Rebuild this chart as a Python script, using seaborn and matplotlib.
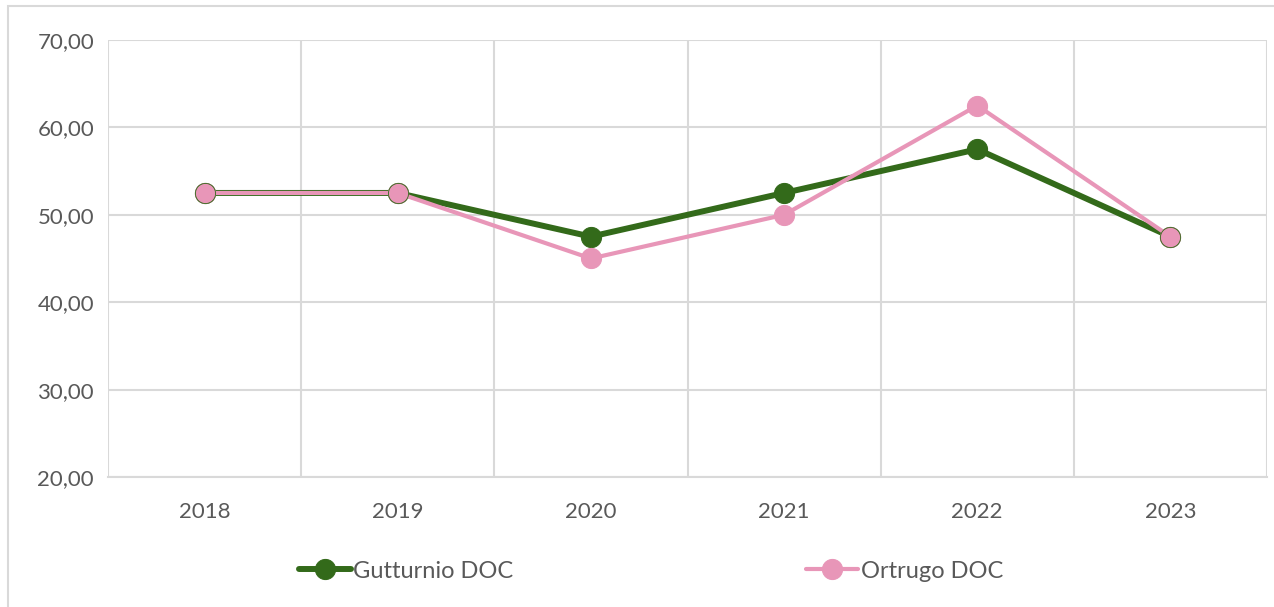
import pandas as pd
import matplotlib
matplotlib.use("Agg")
import matplotlib.pyplot as plt
import seaborn as sns
from matplotlib.patches import Rectangle

# data
years = ["2018", "2019", "2020", "2021", "2022", "2023"]
gutturnio = [52.5, 52.5, 47.5, 52.5, 57.5, 47.5]
ortrugo = [52.5, 52.5, 45.0, 50.0, 62.5, 47.5]
y_ticks = [20, 30, 40, 50, 60, 70]

df = pd.DataFrame({"year": list(range(len(years))) * 2,
                   "price": gutturnio + ortrugo,
                   "serie": ["Gutturnio DOC"] * len(years) + ["Ortrugo DOC"] * len(years)})

sns.set_theme(style="white")
plt.rcParams["font.family"] = ["Lato", "DejaVu Sans"]

green = "#336a1a"
pink = "#e896b8"
grey_txt = "#595959"
grid_c = "#d9d9d9"

fig = plt.figure(figsize=(12.74, 6.07), dpi=100)
ax = fig.add_axes([108 / 1274, 1 - 477 / 607, (1267 - 108) / 1274, (477 - 40) / 607])

sns.lineplot(data=df[df.serie == "Gutturnio DOC"], x="year", y="price", ax=ax,
             color=green, lw=4.3, marker="o", markersize=14.5, markeredgecolor=green,
             label="Gutturnio DOC", zorder=3)
sns.lineplot(data=df[df.serie == "Ortrugo DOC"], x="year", y="price", ax=ax,
             color=pink, lw=3.0, marker="o", markersize=14.5, markeredgecolor=pink,
             label="Ortrugo DOC", zorder=4)
# pink markers get a thin green edge where the two series overlap
for i, (g, o) in enumerate(zip(gutturnio, ortrugo)):
    if g == o:
        ax.plot(i, o, "o", ms=14.5, mfc=pink, mec=green, mew=0.6, zorder=5)

ax.set_xlim(-0.5, len(years) - 0.5)
ax.set_ylim(20, 70)
ax.set_yticks(y_ticks)
ax.set_yticklabels([f"{v:.2f}".replace(".", ",") for v in y_ticks])
ax.set_xticks(range(len(years)))
ax.set_xticklabels(years)
ax.set_xticks([i + 0.5 for i in range(-1, len(years))], minor=True)
ax.grid(False)
ax.yaxis.grid(True, color=grid_c, lw=1.5)
ax.xaxis.grid(True, which="minor", color=grid_c, lw=1.5)
ax.tick_params(axis="both", which="both", length=0, colors=grey_txt, labelsize=16)
ax.tick_params(axis="x", pad=18)
ax.tick_params(axis="y", pad=10)
ax.set_xlabel("")
ax.set_ylabel("")
for side in ["top", "right", "left"]:
    ax.spines[side].set_visible(False)
ax.spines["bottom"].set_color(grid_c)
ax.spines["bottom"].set_linewidth(1.5)

ax.get_legend().remove()
handles, labels = ax.get_legend_handles_labels()
fig.legend(handles[:2], labels[:2], loc="center", bbox_to_anchor=(0.511, 1 - 571 / 607),
           ncol=2, frameon=False, fontsize=17, labelcolor=grey_txt,
           columnspacing=12.4, handlelength=2.2, handletextpad=0.1)

# chart area border
fig.patches.append(Rectangle((8 / 1274, -0.01), 1.2, 1 - 6 / 607 + 0.01,
                             transform=fig.transFigure, fill=False,
                             edgecolor=grid_c, lw=1.5))

fig.savefig("out.png", dpi=100)
